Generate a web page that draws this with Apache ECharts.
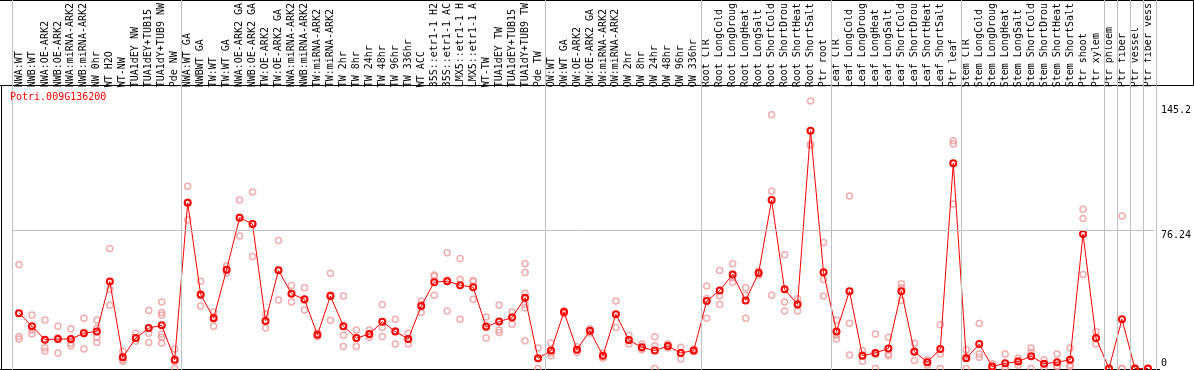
<!DOCTYPE html>
<html>
<head>
<meta charset="utf-8">
<script src="https://cdn.jsdelivr.net/npm/echarts@6/dist/echarts.min.js"></script>
<style>
html,body{margin:0;padding:0;background:#fff;}
#chart{width:1194px;height:370px;}
</style>
</head>
<body>
<div id="chart"></div>
<script>
const categories = [
  'NWA:WT','NWB:WT','NWA:OE-ARK2','NWB:OE-ARK2','NWA:miRNA-ARK2','NWB:miRNA-ARK2','NW 0hr','WT H2O','WT-NW','TUA1dEY NW','TUA1dEY+TUB15','TUA1dY+TUB9 NW','Pde NW',
  'NWA:WT GA','NWBWT GA','TW:WT','TW:WT GA','NWA:OE-ARK2 GA','NWB:OE-ARK2 GA','TW:OE-ARK2','TW:OE-ARK2 GA','NWA:miRNA-ARK2','NWB:miRNA-ARK2','TW:miRNA-ARK2','TW:miRNA-ARK2',
  'TW 2hr','TW 8hr','TW 24hr','TW 48hr','TW 96hr','TW 336hr','WT ACC','35S::etr1-1 H2','35S::etr1-1 AC','LMX5::etr1-1 H','LMX5::etr1-1 A','WT-TW','TUA1dEY TW','TUA1dEY+TUB15','TUA1dY+TUB9 TW','Pde TW',
  'OW:WT','OW:WT GA','OW:OE-ARK2','OW:OE-ARK2 GA','OW:miRNA-ARK2','OW:miRNA-ARK2','OW 2hr','OW 8hr','OW 24hr','OW 48hr','OW 96hr','OW 336hr',
  'Root CTR','Root LongCold','Root LongDroug','Root LongHeat','Root LongSalt','Root ShortCold','Root ShortDrou','Root ShortHeat','Root ShortSalt','Ptr root',
  'Leaf CTR','Leaf LongCold','Leaf LongDroug','Leaf LongHeat','Leaf LongSalt','Leaf ShortCold','Leaf ShortDrou','Leaf ShortHeat','Leaf ShortSalt','Ptr leaf',
  'Stem CTR','Stem LongCold','Stem LongDroug','Stem LongHeat','Stem LongSalt','Stem ShortCold','Stem ShortDrou','Stem ShortHeat','Stem ShortSalt','Ptr shoot',
  'Ptr xylem','Ptr phloem','Ptr fiber','Ptr vessel','Ptr fiber vess'
];

const means = [
  30.5,23.4,15.9,16.3,16.3,19.5,20.5,48.0,6.2,16.8,22.3,23.9,4.9,
  91.5,40.9,27.8,54.6,83.3,79.8,26.3,54.2,41.3,38.2,18.6,40.0,
  23.4,16.8,19.0,25.8,20.5,16.3,34.5,47.7,48.2,46.0,44.9,23.0,25.9,28.1,39.1,5.6,
  9.9,31.2,10.4,20.8,7.1,30.0,15.7,11.7,9.9,12.4,8.6,9.9,
  37.3,43.1,51.9,37.6,52.8,93.0,43.7,35.4,131.3,53.2,
  20.5,42.7,7.1,8.6,11.1,42.7,9.3,3.5,10.8,113.4,
  5.6,13.5,1.1,2.9,3.8,6.8,2.6,3.5,4.8,74.3,
  16.8,0,27.2,0,0
];

const replicates = [
  [57.4,17.7,16.3],[29.6,21.2,19.0],[26.8,11.5,9.5],[23.4,17.0,8.6],[21.9,13.9,12.6],[27.8,20.0,10.8],[26.8,22.3,17.2,14.4],[66.3,43.7,34.9],[9.5,5.0,4.0],[19.5,16.8,15.0],[32.1,19.5,14.4],[36.7,30.9,29.6,19.0,17.2,14.1],[10.8,4.0,0],
  [100.6,91.8,82.0],[48.2,40.0,34.5],[31.2,28.5,23.4],[56.8,54.2,52.8],[93.0,83.5,73.2],[97.5,80.0,61.9],[30.3,26.3,22.3],[70.7,54.2,37.8],[45.8,41.4,36.7],[44.6,37.7,32.3],[19.5,18.6,17.7],[52.6,40.7,26.7],
  [40.0,18.4,12.1],[21.2,17.0,12.2],[21.2,18.6,17.2],[35.4,22.8,17.7],[27.2,20.8,13.5],[19.5,16.0,13.5],[37.3,35.3,30.9],[51.7,51.0,40.4],[63.9,48.9,31.8],[60.8,49.1,27.2],[48.6,48.0,38.2],[28.5,23.7,16.8],[35.1,21.2,19.9],[31.2,28.6,24.5],[57.9,53.0,41.5,35.4,33.6,15.3],[11.3,5.5,0],
  [14.1,8.5,7.1],[32.0,31.2,30.3],[12.0,10.4,8.8],[22.0,20.8,19.6],[8.6,7.1,5.6],[37.3,30.0,22.6],[18.3,15.3,13.5],[13.5,11.2,10.4],[17.5,12.6,0],[13.5,12.4,11.3],[11.7,8.8,5.3],[10.8,9.5,9.4],
  [45.5,38.6,27.8],[54.1,40.0,35.4],[57.9,50.1,47.7],[44.6,40.4,27.8],[53.8,53.2,51.4],[140.1,97.9,40.4],[62.8,36.7,31.8],[38.5,36.0,31.8],[147.8,124.0,123.1],[69.6,49.1,40.0],
  [26.7,18.3,16.3],[95.3,25.0,7.5],[9.9,7.4,4.0],[19.0,7.7,0],[17.2,8.0,7.1],[46.8,44.6,37.6],[13.9,9.6,4.4],[4.8,3.7,1.8],[24.1,8.0,0],[125.8,124.0,90.8],
  [10.4,6.5,0],[24.8,8.0,6.2],[2.6,0.7,0],[8.0,0.7,0],[5.6,4.4,1.8],[11.3,9.0,0],[4.8,2.6,0.4],[8.0,1.5,1.1],[11.3,2.0,1.1],[88.0,82.9,51.9],
  [20.5,16.4,13.5],[0,0],[84.2,0,0],[0,0],[0,0]
];

const groupBounds = [0,13,41,53,63,73,84,85,86,87,88];
const yTickLabels = [0, 76.24, 145.2];
const yMax = 154.2;
const geneName = 'Potri.009G136200';

const repPoints = [];
replicates.forEach((arr, i) => arr.forEach(v => repPoints.push([i, v])));

const mono = 'DejaVu Sans Mono';
const chart = echarts.init(document.getElementById('chart'), null, {renderer: 'canvas'});

const option = {
  animation: false,
  backgroundColor: '#ffffff',
  title: {
    text: geneName, left: 10, top: 92, padding: 0,
    textStyle: {color: '#ff0000', fontFamily: mono, fontSize: 10, fontWeight: 'normal'}
  },
  grid: [
    {left: 12.5, right: 37.5, top: 85, bottom: 1.5},
    {left: 12.5, right: 37.5, top: 0, bottom: 0}
  ],
  xAxis: [
    {
      type: 'category', gridIndex: 0, position: 'top', data: categories, boundaryGap: true,
      axisLine: {show: false}, axisTick: {show: false}, splitLine: {show: false},
      axisLabel: {interval: 0, rotate: 90, margin: 2, fontFamily: mono, fontSize: 10, color: '#000'}
    },
    {type: 'value', gridIndex: 1, min: 0, max: 88, show: false}
  ],
  yAxis: [
    {
      type: 'value', gridIndex: 0, position: 'right', min: 0, max: yMax,
      axisLine: {show: false}, axisTick: {show: false}, splitLine: {show: false},
      axisLabel: {customValues: yTickLabels.slice(1), verticalAlign: 'top', margin: 6.5, fontFamily: mono, fontSize: 10, color: '#000'}
    },
    {
      type: 'value', gridIndex: 0, position: 'right', min: 0, max: yMax,
      axisLine: {show: false}, axisTick: {show: false}, splitLine: {show: false},
      axisLabel: {customValues: yTickLabels.slice(0, 1), verticalAlign: 'bottom', margin: 6.5, fontFamily: mono, fontSize: 10, color: '#000'}
    },
    {type: 'value', gridIndex: 1, min: 0, max: 1, show: false}
  ],
  series: [
    {
      type: 'line', xAxisIndex: 1, yAxisIndex: 2, data: [[0, -1]], symbol: 'none', silent: true,
      lineStyle: {opacity: 0},
      markLine: {
        silent: true, symbol: ['none', 'none'], label: {show: false},
        lineStyle: {color: '#c0c0c0', width: 1, type: 'solid'},
        data: groupBounds.map(b => ({xAxis: b}))
      }
    },
    {
      type: 'scatter', xAxisIndex: 0, yAxisIndex: 0, data: repPoints, symbol: 'circle', symbolSize: 6,
      itemStyle: {color: 'rgba(0,0,0,0)', borderColor: '#ef9a9a', borderWidth: 1.5},
      markLine: {
        silent: true, symbol: ['none', 'none'], label: {show: false},
        lineStyle: {color: '#c0c0c0', width: 1, type: 'solid'},
        data: [{yAxis: yTickLabels[1]}]
      },
      z: 2
    },
    {
      type: 'line', xAxisIndex: 0, yAxisIndex: 0, data: means, symbol: 'circle', symbolSize: 6,
      showAllSymbol: true,
      lineStyle: {color: '#ff0000', width: 1},
      itemStyle: {color: 'rgba(0,0,0,0)', borderColor: '#ff0000', borderWidth: 2},
      z: 3
    }
  ],
  graphic: [
    {type: 'line', shape: {x1: 0, y1: 0.5, x2: 1194, y2: 0.5}, style: {stroke: '#000', lineWidth: 1}, silent: true},
    {type: 'line', shape: {x1: 0, y1: 85.5, x2: 1194, y2: 85.5}, style: {stroke: '#000', lineWidth: 1}, silent: true},
    {type: 'line', shape: {x1: 1.5, y1: 85, x2: 1.5, y2: 370}, style: {stroke: '#000', lineWidth: 1}, silent: true},
    {type: 'line', shape: {x1: 1193.5, y1: 0, x2: 1193.5, y2: 85}, style: {stroke: '#000', lineWidth: 1}, silent: true},
    {type: 'line', shape: {x1: 0, y1: 369.5, x2: 1160, y2: 369.5}, style: {stroke: '#000', lineWidth: 1}, silent: true}
  ]
};
chart.setOption(option);
</script>
</body>
</html>
